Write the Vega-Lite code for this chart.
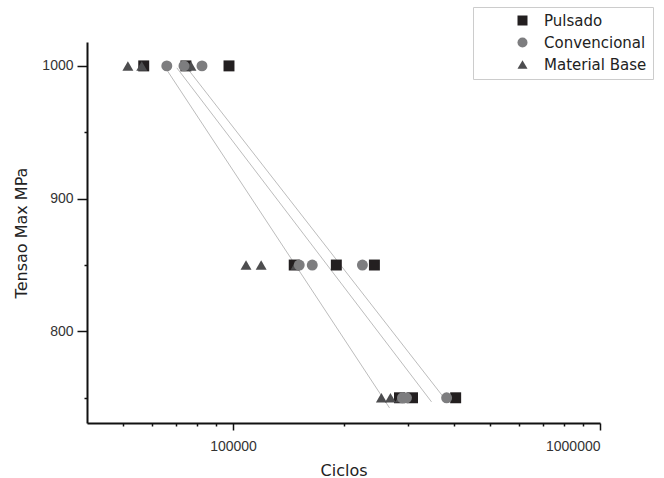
{
  "$schema": "https://vega.github.io/schema/vega-lite/v6.json",
  "width": 513,
  "height": 381,
  "autosize": {"type": "none"},
  "padding": {"left": 87, "top": 42, "right": 64, "bottom": 55},
  "background": "white",
  "config": {
    "view": {"stroke": null},
    "font": "Liberation Sans",
    "axis": {
      "domainColor": "#111111",
      "domainWidth": 2,
      "tickColor": "#111111",
      "tickWidth": 1.5,
      "grid": false,
      "labelColor": "#333333",
      "labelFontSize": 14,
      "titleColor": "#222222",
      "titleFontSize": 16,
      "titleFontWeight": "normal",
      "titleFont": "DejaVu Sans"
    },
    "legend": {
      "orient": "none",
      "legendX": 386,
      "legendY": -35,
      "strokeColor": "#cccccc",
      "padding": 6,
      "symbolOffset": 36,
      "labelFontSize": 15,
      "labelColor": "#222222",
      "labelFont": "DejaVu Sans",
      "rowPadding": 6,
      "labelOffset": 14
    }
  },
  "encoding": {
    "x": {
      "field": "ciclos",
      "type": "quantitative",
      "scale": {"type": "log", "domain": [40000, 1000000], "nice": false},
      "axis": {
        "title": "Ciclos",
        "values": [50000, 60000, 70000, 80000, 90000, 100000, 200000, 300000, 400000, 500000, 600000, 700000, 800000, 900000, 1000000],
        "labelExpr": "datum.value == 100000 || datum.value == 1000000 ? format(datum.value, 'd') : ''",
        "tickSize": {"condition": {"test": "datum.value == 100000 || datum.value == 1000000", "value": 7}, "value": 3},
        "labelPadding": 9,
        "titlePadding": 9
      }
    },
    "y": {
      "field": "tensao",
      "type": "quantitative",
      "scale": {"domain": [731, 1018], "nice": false, "zero": false},
      "axis": {
        "title": "Tensao Max MPa",
        "values": [750, 800, 850, 900, 950, 1000],
        "labelExpr": "datum.value % 100 == 0 ? format(datum.value, 'd') : ''",
        "tickSize": {"condition": {"test": "datum.value % 100 == 0", "value": 10}, "value": 3},
        "labelPadding": 4,
        "titlePadding": 12
      }
    }
  },
  "layer": [
    {
      "data": {
        "values": [
          {"fit": "Material Base", "ciclos": 66000, "tensao": 997},
          {"fit": "Material Base", "ciclos": 266900, "tensao": 742.4},
          {"fit": "Convencional", "ciclos": 70300, "tensao": 998.5},
          {"fit": "Convencional", "ciclos": 347500, "tensao": 746.9},
          {"fit": "Pulsado", "ciclos": 74900, "tensao": 998.5},
          {"fit": "Pulsado", "ciclos": 379600, "tensao": 748.4}
        ]
      },
      "mark": {"type": "line", "color": "#b4b4b4", "strokeWidth": 0.9},
      "encoding": {"detail": {"field": "fit"}}
    },
    {
      "data": {
        "values": [
          {"serie": "Pulsado", "ciclos": 57100, "tensao": 1000},
          {"serie": "Pulsado", "ciclos": 74400, "tensao": 1000},
          {"serie": "Pulsado", "ciclos": 97500, "tensao": 1000},
          {"serie": "Pulsado", "ciclos": 146800, "tensao": 850},
          {"serie": "Pulsado", "ciclos": 191200, "tensao": 850},
          {"serie": "Pulsado", "ciclos": 242800, "tensao": 850},
          {"serie": "Pulsado", "ciclos": 284200, "tensao": 750},
          {"serie": "Pulsado", "ciclos": 308400, "tensao": 750},
          {"serie": "Pulsado", "ciclos": 404300, "tensao": 750},
          {"serie": "Material Base", "ciclos": 51700, "tensao": 1000},
          {"serie": "Material Base", "ciclos": 56400, "tensao": 1000},
          {"serie": "Material Base", "ciclos": 76800, "tensao": 1000},
          {"serie": "Material Base", "ciclos": 108500, "tensao": 850},
          {"serie": "Material Base", "ciclos": 119300, "tensao": 850},
          {"serie": "Material Base", "ciclos": 148600, "tensao": 850},
          {"serie": "Material Base", "ciclos": 253700, "tensao": 750},
          {"serie": "Material Base", "ciclos": 268500, "tensao": 750},
          {"serie": "Material Base", "ciclos": 286000, "tensao": 750},
          {"serie": "Convencional", "ciclos": 66000, "tensao": 1000},
          {"serie": "Convencional", "ciclos": 73500, "tensao": 1000},
          {"serie": "Convencional", "ciclos": 82300, "tensao": 1000},
          {"serie": "Convencional", "ciclos": 151500, "tensao": 850},
          {"serie": "Convencional", "ciclos": 164400, "tensao": 850},
          {"serie": "Convencional", "ciclos": 225200, "tensao": 850},
          {"serie": "Convencional", "ciclos": 289500, "tensao": 750},
          {"serie": "Convencional", "ciclos": 296900, "tensao": 750},
          {"serie": "Convencional", "ciclos": 382000, "tensao": 750}
        ]
      },
      "mark": {"type": "point", "filled": true, "opacity": 1, "size": 120},
      "encoding": {
        "color": {
          "field": "serie",
          "type": "nominal",
          "scale": {"domain": ["Pulsado", "Convencional", "Material Base"], "range": ["#231f20", "#7d7d7f", "#4d4d4f"]},
          "legend": {"title": null}
        },
        "shape": {
          "field": "serie",
          "type": "nominal",
          "scale": {"domain": ["Pulsado", "Convencional", "Material Base"], "range": ["square", "circle", "triangle-up"]},
          "legend": {"title": null}
        }
      }
    }
  ]
}
